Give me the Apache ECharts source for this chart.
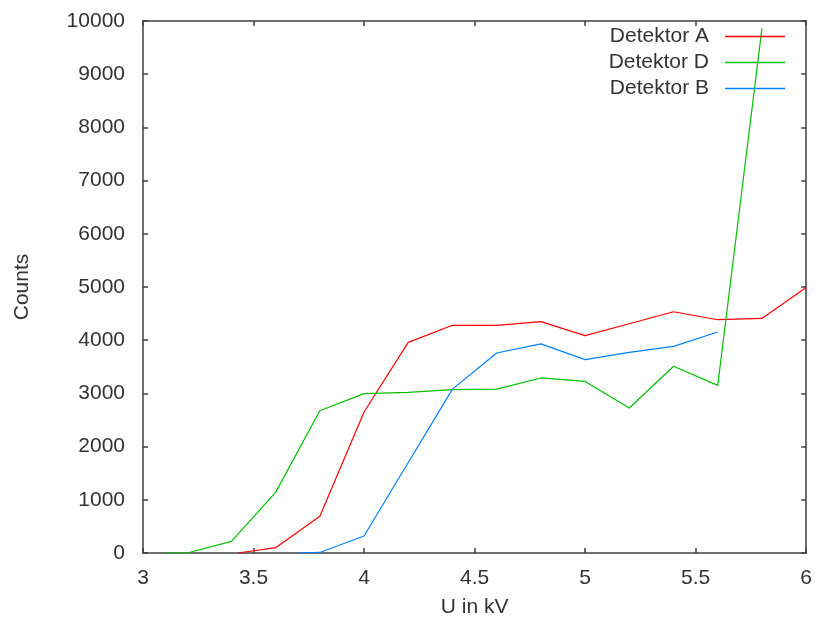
<!DOCTYPE html>
<html>
<head>
<meta charset="utf-8">
<script src="https://cdn.jsdelivr.net/npm/echarts@6/dist/echarts.min.js"></script>
<style>
  html, body { margin: 0; padding: 0; background: #fff; }
  #chart { width: 815px; height: 626px; }
</style>
</head>
<body>
<div id="chart"></div>
<script>
// data: [U in kV, counts]
var detektorA = [[3.43, 0], [3.6, 100], [3.8, 690], [4.0, 2650], [4.2, 3960], [4.4, 4280], [4.6, 4280],
    [4.8, 4350], [5.0, 4085], [5.2, 4310], [5.4, 4535], [5.6, 4385], [5.8, 4410], [6.0, 4990]];
var detektorD = [[3.1, 0], [3.2, 0], [3.4, 220], [3.6, 1140], [3.8, 2675], [4.0, 2995], [4.2, 3020], [4.4, 3070],
    [4.6, 3080], [4.8, 3290], [5.0, 3225], [5.2, 2725], [5.4, 3510], [5.6, 3150], [5.8, 9860]];
var detektorB = [[3.7, 0], [3.8, 10], [4.0, 320], [4.2, 1700], [4.4, 3080], [4.6, 3760], [4.8, 3930],
    [5.0, 3635], [5.2, 3770], [5.4, 3885], [5.6, 4155]];
var seriesNames = ['Detektor A', 'Detektor D', 'Detektor B'];
var colors = ['#ff0000', '#00c000', '#0080ff'];

var chartDom = document.getElementById('chart');
var myChart = echarts.init(chartDom);
var option;

var axisColor = '#404040';
var font = 'Liberation Sans, Arial, sans-serif';
var fontSize = 21;

function boxAxis(extra) {
    return Object.assign({
        axisLine: { show: true, onZero: false, lineStyle: { color: axisColor, width: 1.5 } },
        axisTick: { show: true, inside: true, length: 5, lineStyle: { color: axisColor, width: 1.5 } },
        splitLine: { show: false },
        axisLabel: { show: false }
    }, extra);
}

function legendFor(i) {
    return {
        data: [seriesNames[i]],
        right: 30,
        top: 26 + i * 26,
        icon: 'rect',
        itemWidth: 60,
        itemHeight: 1.5,
        padding: 0,
        textStyle: { fontFamily: font, fontSize: fontSize, color: '#333', padding: [0, 11, 0, 0] },
        align: 'right'
    };
}

option = {
    animation: false,
    color: colors,
    grid: { left: 143, right: 5, top: 21, bottom: 73 },
    legend: [legendFor(0), legendFor(1), legendFor(2)],
    xAxis: [
        boxAxis({
            type: 'value', min: 3, max: 6, interval: 0.5,
            name: 'U in kV', nameLocation: 'middle', nameGap: 44,
            nameTextStyle: { fontFamily: font, fontSize: fontSize, color: '#333' },
            axisLabel: { show: true, margin: 15, fontFamily: font, fontSize: fontSize, color: '#333' }
        }),
        boxAxis({ type: 'value', min: 3, max: 6, interval: 0.5, position: 'top' })
    ],
    yAxis: [
        boxAxis({
            type: 'value', min: 0, max: 10000, interval: 1000,
            name: 'Counts', nameLocation: 'middle', nameGap: 110,
            nameTextStyle: { fontFamily: font, fontSize: fontSize, color: '#333' },
            axisLabel: {
                show: true, margin: 18, fontFamily: font, fontSize: fontSize, color: '#333',
                formatter: function (v) { return String(v); }
            }
        }),
        boxAxis({ type: 'value', min: 0, max: 10000, interval: 1000, position: 'right' })
    ],
    series: [
        { name: seriesNames[0], type: 'line', data: detektorA, symbol: 'none', lineStyle: { width: 1.2 } },
        { name: seriesNames[1], type: 'line', data: detektorD, symbol: 'none', lineStyle: { width: 1.2 } },
        { name: seriesNames[2], type: 'line', data: detektorB, symbol: 'none', lineStyle: { width: 1.2 } }
    ]
};

option && myChart.setOption(option);
</script>
</body>
</html>
